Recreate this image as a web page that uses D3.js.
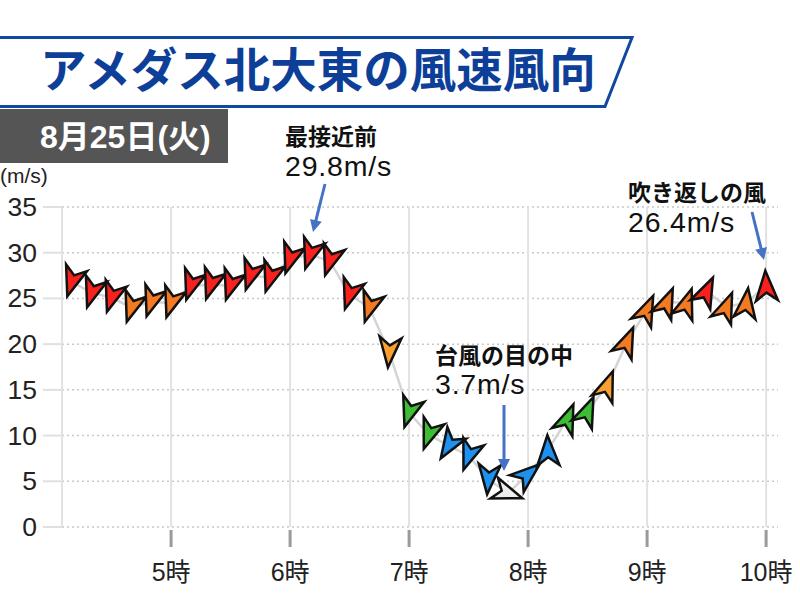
<!DOCTYPE html>
<html>
<head>
<meta charset="utf-8">
<script src="https://cdn.jsdelivr.net/npm/d3@7"></script>
<style>
  body { margin: 0; background: #fff; }
  svg { display: block; }
</style>
</head>
<body>
<div id="chart"></div>
<script>
// 10分ごとの観測値
const times = [
  "4:10", "4:20", "4:30", "4:40", "4:50",
  "5:00", "5:10", "5:20", "5:30", "5:40", "5:50",
  "6:00", "6:10", "6:20", "6:30", "6:40", "6:50",
  "7:00", "7:10", "7:20", "7:30", "7:40", "7:50",
  "8:00", "8:10", "8:20", "8:30", "8:40", "8:50",
  "9:00", "9:10", "9:20", "9:30", "9:40", "9:50",
  "10:00"
];
const speeds = [
  26.8, 25.6, 25.1, 24.0, 24.6,
  24.5, 26.4, 26.5, 26.4, 27.5, 27.3,
  29.3, 29.8, 29.1, 25.4, 24.0, 19.1,
  12.5, 10.1, 8.9, 7.8, 5.2, 3.7,
  5.8, 8.4, 11.9, 12.7, 15.5, 20.3,
  23.8, 24.6, 24.5, 25.8, 24.1, 24.5,
  26.4
];
// 矢印の向き (度, 北から時計回り, 風が吹いていく方向)
const bearings = [
  198, 198, 198, 198, 198,
  198, 198, 198, 198, 198, 198,
  198, 198, 198, 198, 198, 185,
  198, 200, 212, 200, 185, 110,
  50, 358, 22, 23, 21, 23,
  24, 23, 19, 25, 22, 7,
  357
];
const hourTicks = [5, 6, 7, 8, 9, 10];
const yTicks = [0, 5, 10, 15, 20, 25, 30, 35];

// 風速の色分け
const speedBreaks = [5, 10, 15, 20, 25];
const speedColors = ["#eeeeee", "#1e90f0", "#3dbd34", "#f9a030", "#f47a22", "#f8211d"];

const width = 800, height = 600;
const toMin = (t) => { const [h, m] = t.split(":").map(Number); return h * 60 + m; };
const data = times.map((t, i) => ({ t: toMin(t), v: speeds[i], dir: bearings[i] }));

const svg = d3.select("#chart").append("svg")
  .attr("width", width).attr("height", height);

const jp = "'Noto Sans CJK JP', 'Noto Sans', sans-serif";
const lat = "'Liberation Sans', 'Noto Sans CJK JP', sans-serif";

// タイトル帯
svg.append("polygon")
  .attr("points", "-5,37.5 632,37.5 605,106.5 -5,106.5")
  .attr("fill", "#fff")
  .attr("stroke", "#1148a0")
  .attr("stroke-width", 3);
svg.append("text")
  .attr("x", 40).attr("y", 66)
  .attr("dominant-baseline", "central")
  .attr("font-family", jp).attr("font-weight", "bold")
  .attr("font-size", 46.5).attr("fill", "#0d3f98")
  .text("アメダス北大東の風速風向");

// 日付
svg.append("rect")
  .attr("x", 0).attr("y", 109).attr("width", 228).attr("height", 54)
  .attr("fill", "#555");
svg.append("text")
  .attr("x", 40).attr("y", 137)
  .attr("dominant-baseline", "central")
  .attr("font-family", lat).attr("font-weight", "bold")
  .attr("font-size", 32).attr("fill", "#fff")
  .text("8月25日(火)");

// スケール
const x = d3.scaleLinear().domain([245, 606]).range([62, 778]);
const y = d3.scaleLinear().domain([0, 35]).range([527, 207]);
const color = d3.scaleThreshold().domain(speedBreaks).range(speedColors);

// 単位
svg.append("text")
  .attr("x", 0).attr("y", 183)
  .attr("font-family", lat).attr("font-size", 21).attr("fill", "#222")
  .text("(m/s)");

// 横グリッド (点線) と目盛
const yAxis = svg.append("g");
yAxis.selectAll(".hgrid").data(yTicks).enter().append("line")
  .attr("x1", x.range()[0]).attr("x2", x.range()[1])
  .attr("y1", (d) => y(d)).attr("y2", (d) => y(d))
  .attr("stroke", "#c8c8c8").attr("stroke-width", 1.5)
  .attr("stroke-dasharray", "2,3");
yAxis.selectAll(".ytick").data(yTicks).enter().append("line")
  .attr("x1", 43).attr("x2", x.range()[0])
  .attr("y1", (d) => y(d)).attr("y2", (d) => y(d))
  .attr("stroke", "#e0e0e0").attr("stroke-width", 2);
yAxis.selectAll(".ylabel").data(yTicks).enter().append("text")
  .attr("x", 37).attr("y", (d) => y(d))
  .attr("text-anchor", "end").attr("dominant-baseline", "central")
  .attr("font-family", lat).attr("font-size", 26.5).attr("fill", "#222")
  .text((d) => d);

// 縦グリッド
const xGridVals = [x.domain()[0]].concat(hourTicks.map((h) => h * 60));
svg.selectAll(".vgrid").data(xGridVals).enter().append("line")
  .attr("x1", (d, i) => (i === 0 ? x.range()[0] : x(d)))
  .attr("x2", (d, i) => (i === 0 ? x.range()[0] : x(d)))
  .attr("y1", y(35)).attr("y2", y(0))
  .attr("stroke", "#e2e2e2").attr("stroke-width", 2);

// 時刻目盛
const xAxis = svg.append("g");
xAxis.selectAll(".xtick").data(hourTicks).enter().append("line")
  .attr("x1", (d) => x(d * 60)).attr("x2", (d) => x(d * 60))
  .attr("y1", y(0) + 3).attr("y2", y(0) + 20)
  .attr("stroke", "#9a9a9a").attr("stroke-width", 3);
xAxis.selectAll(".xlabel").data(hourTicks).enter().append("text")
  .attr("x", (d) => x(d * 60)).attr("y", 581)
  .attr("text-anchor", "middle")
  .attr("font-family", lat).attr("font-size", 25).attr("fill", "#222")
  .text((d) => d + "時");

// 折れ線
const line = d3.line().x((d) => x(d.t)).y((d) => y(d.v));
svg.append("path")
  .datum(data)
  .attr("d", line)
  .attr("fill", "none")
  .attr("stroke", "#d4d4d4")
  .attr("stroke-width", 2.5);

// 風向矢印
function dart(d) {
  const cx = x(d.t), cy = y(d.v);
  const a = (d.dir * Math.PI) / 180;
  const ux = Math.sin(a), uy = -Math.cos(a);
  const px = Math.cos(a), py = Math.sin(a);
  const half = 15, w = 11, notch = 8;
  const tip = [cx + half * ux, cy + half * uy];
  const bx = cx - half * ux, by = cy - half * uy;
  const b1 = [bx + w * px, by + w * py];
  const b2 = [bx - w * px, by - w * py];
  const n = [bx + notch * ux, by + notch * uy];
  return `M${tip}L${b1}L${n}L${b2}Z`;
}
svg.selectAll(".arrow").data(data).enter().append("path")
  .attr("class", "arrow")
  .attr("d", dart)
  .attr("fill", (d) => color(d.v))
  .attr("stroke", "#111")
  .attr("stroke-width", 2.5)
  .attr("stroke-linejoin", "miter");

// 注記
const notes = [
  { label: "最接近前", value: "29.8m/s", tx: 285, ty: 135, vy: 176, from: [325, 184], to: [313, 232] },
  { label: "台風の目の中", value: "3.7m/s", tx: 435, ty: 354, vy: 394, from: [504, 405], to: [504, 471] },
  { label: "吹き返しの風", value: "26.4m/s", tx: 628, ty: 191, vy: 232, from: [752, 212], to: [764, 260] }
];
const noteG = svg.selectAll(".note").data(notes).enter().append("g");
noteG.append("text")
  .attr("x", (d) => d.tx).attr("y", (d) => d.ty)
  .attr("dominant-baseline", "central")
  .attr("font-family", jp).attr("font-weight", "bold")
  .attr("font-size", 23).attr("fill", "#111")
  .text((d) => d.label);
noteG.append("text")
  .attr("x", (d) => d.tx).attr("y", (d) => d.vy)
  .attr("font-family", lat).attr("font-size", 28.5)
  .attr("letter-spacing", 0.8).attr("fill", "#111")
  .text((d) => d.value);
noteG.append("path")
  .attr("d", (d) => {
    const [x1, y1] = d.from, [x2, y2] = d.to;
    const len = Math.hypot(x2 - x1, y2 - y1);
    const ux = (x2 - x1) / len, uy = (y2 - y1) / len;
    const hx = x2 - 11 * ux, hy = y2 - 11 * uy;
    return `M${x1},${y1}L${hx},${hy}`;
  })
  .attr("stroke", "#4472c4").attr("stroke-width", 3);
noteG.append("path")
  .attr("d", (d) => {
    const [x1, y1] = d.from, [x2, y2] = d.to;
    const len = Math.hypot(x2 - x1, y2 - y1);
    const ux = (x2 - x1) / len, uy = (y2 - y1) / len;
    const hx = x2 - 12 * ux, hy = y2 - 12 * uy;
    return `M${x2},${y2}L${hx - 6 * uy},${hy + 6 * ux}L${hx + 6 * uy},${hy - 6 * ux}Z`;
  })
  .attr("fill", "#4472c4");
</script>
</body>
</html>
